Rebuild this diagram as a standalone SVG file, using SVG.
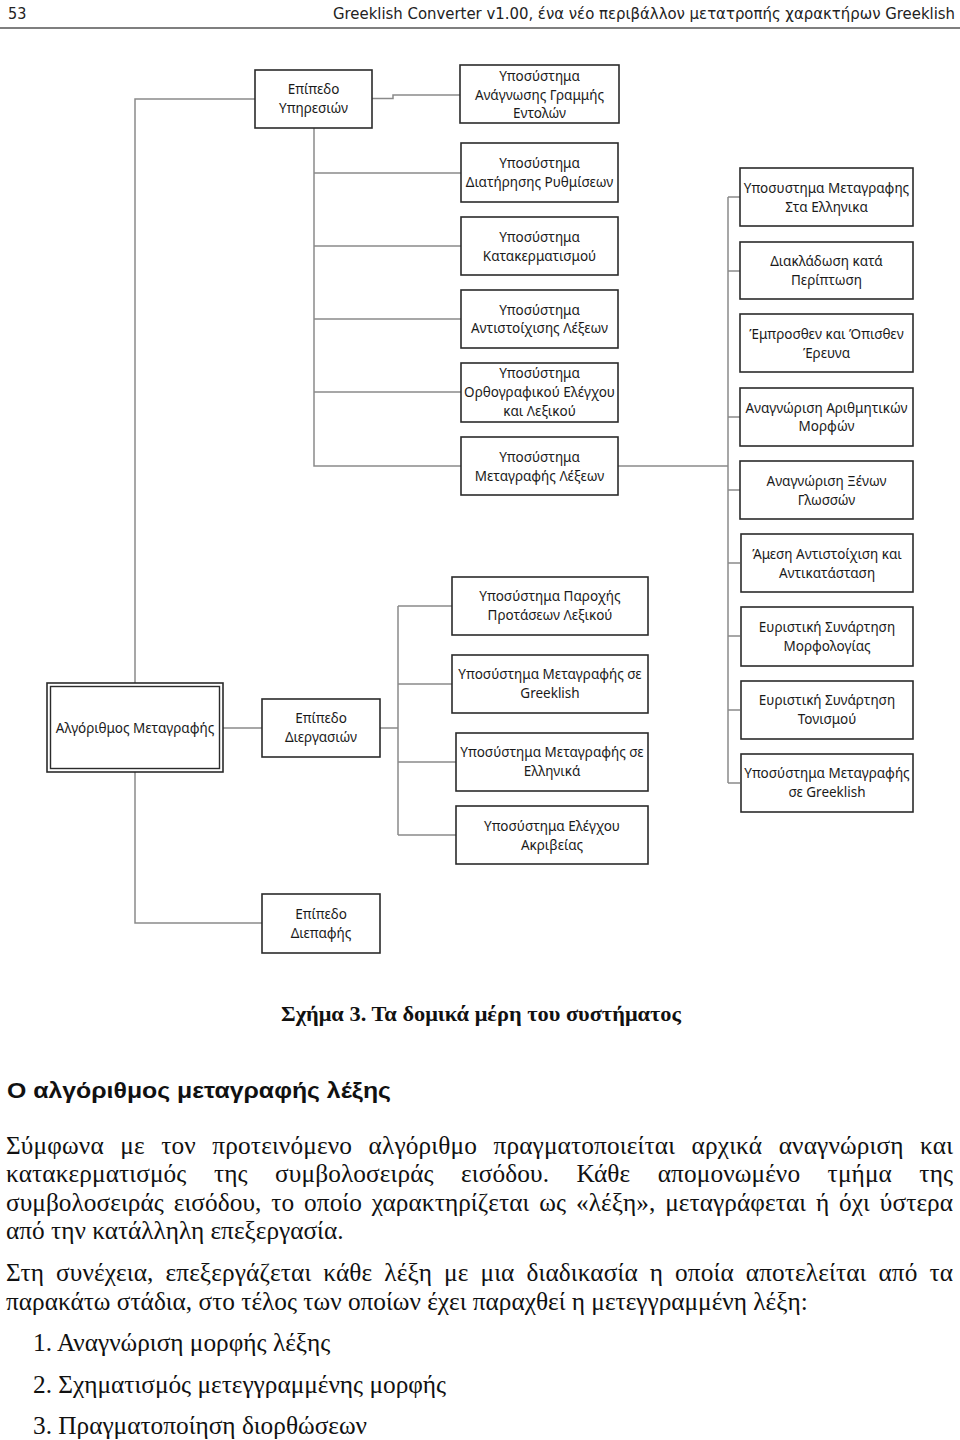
<svg xmlns="http://www.w3.org/2000/svg" width="960" height="1440" viewBox="0 0 960 1440">
<style>
.bg{fill:#ffffff}
.box{fill:#ffffff;stroke:#2b2b2b;stroke-width:1.6}
.dbl{fill:none;stroke:#2b2b2b;stroke-width:1.4}
.con{fill:none;stroke:#8a8a8a;stroke-width:1.5}
.t{font-family:"Noto Sans","Open Sans","DejaVu Sans",sans-serif;font-size:13.5px;fill:#1a1a1a;text-anchor:middle}
.hdr{font-family:"DejaVu Sans Condensed","DejaVu Sans","Liberation Sans",sans-serif;font-size:16px;fill:#222}
.p{font-family:"Liberation Serif","Times New Roman",serif;font-size:25.3px;fill:#111}
.cap{font-family:"Liberation Serif","Times New Roman",serif;font-size:22px;font-weight:bold;fill:#111}
.h{font-family:"Liberation Sans",Arial,sans-serif;font-size:22px;font-weight:bold;fill:#111}
</style>
<rect class="bg" x="0" y="0" width="960" height="1440"/>

<g id="header">
<text class="hdr" x="8" y="19">53</text>
<text class="hdr" x="955" y="19" text-anchor="end" textLength="622" lengthAdjust="spacingAndGlyphs">Greeklish Converter v1.00, ένα νέο περιβάλλον μετατροπής χαρακτήρων Greeklish</text>
<line x1="0" y1="28" x2="960" y2="28" stroke="#555" stroke-width="1.6"/>
</g>

<g id="connectors">
<path class="con" d="M135,683 V99 H255"/>
<path class="con" d="M372,98.5 H393 V95 H460"/>
<path class="con" d="M314,128 V466 H461"/>
<path class="con" d="M314,173 H461 M314,246 H461 M314,319 H461 M314,392 H461"/>
<path class="con" d="M618,466 H728"/>
<path class="con" d="M728,197 V783"/>
<path class="con" d="M728,197 H740 M728,271 H740 M728,417 H740 M728,490 H740 M728,563 H740 M728,636 H740 M728,710 H740 M728,783 H740"/>
<path class="con" d="M223,728 H262"/>
<path class="con" d="M380,728 H398"/>
<path class="con" d="M398,606 V835"/>
<path class="con" d="M398,606 H452 M398,684 H452 M398,762 H456 M398,835 H456"/>
<path class="con" d="M135,772 V923 H262"/>
</g>

<g id="n-ypiresion">
<rect class="box" x="255" y="70" width="117" height="58"/>
<text class="t" x="313.5" y="94">Επίπεδο</text>
<text class="t" x="313.5" y="113">Υπηρεσιών</text>
</g>
<g id="n-anagnosis">
<rect class="box" x="460" y="65" width="159" height="58"/>
<text class="t" x="539.5" y="81">Υποσύστημα</text>
<text class="t" x="539.5" y="99.5">Ανάγνωσης Γραμμής</text>
<text class="t" x="539.5" y="118">Εντολών</text>
</g>
<g id="n-diatirisis">
<rect class="box" x="461" y="143" width="157" height="59"/>
<text class="t" x="539.5" y="168">Υποσύστημα</text>
<text class="t" x="539.5" y="187">Διατήρησης Ρυθμίσεων</text>
</g>
<g id="n-katakermatismou">
<rect class="box" x="461" y="217" width="157" height="58"/>
<text class="t" x="539.5" y="242">Υποσύστημα</text>
<text class="t" x="539.5" y="261">Κατακερματισμού</text>
</g>
<g id="n-antistoixisis">
<rect class="box" x="461" y="290" width="157" height="58"/>
<text class="t" x="539.5" y="315">Υποσύστημα</text>
<text class="t" x="539.5" y="333">Αντιστοίχισης Λέξεων</text>
</g>
<g id="n-orthografikou">
<rect class="box" x="461" y="363" width="157" height="59"/>
<text class="t" x="539.5" y="378">Υποσύστημα</text>
<text class="t" x="539.5" y="397">Ορθογραφικού Ελέγχου</text>
<text class="t" x="539.5" y="416">και Λεξικού</text>
</g>
<g id="n-metagrafis-lexeon">
<rect class="box" x="461" y="437" width="157" height="58"/>
<text class="t" x="539.5" y="462">Υποσύστημα</text>
<text class="t" x="539.5" y="481">Μεταγραφής Λέξεων</text>
</g>

<g id="n-r1">
<rect class="box" x="740" y="168" width="173" height="58"/>
<text class="t" x="826.5" y="193">Υποσυστημα Μεταγραφης</text>
<text class="t" x="826.5" y="212">Στα Ελληνικα</text>
</g>
<g id="n-r2">
<rect class="box" x="740" y="242" width="173" height="57"/>
<text class="t" x="826.5" y="266">Διακλάδωση κατά</text>
<text class="t" x="826.5" y="285">Περίπτωση</text>
</g>
<g id="n-r3">
<rect class="box" x="740" y="314" width="173" height="58"/>
<text class="t" x="826.5" y="339">Έμπροσθεν και Όπισθεν</text>
<text class="t" x="826.5" y="358">Έρευνα</text>
</g>
<g id="n-r4">
<rect class="box" x="740" y="388" width="173" height="58"/>
<text class="t" x="826.5" y="413">Αναγνώριση Αριθμητικών</text>
<text class="t" x="826.5" y="431">Μορφών</text>
</g>
<g id="n-r5">
<rect class="box" x="740" y="461" width="173" height="58"/>
<text class="t" x="826.5" y="486">Αναγνώριση Ξένων</text>
<text class="t" x="826.5" y="505">Γλωσσών</text>
</g>
<g id="n-r6">
<rect class="box" x="741" y="534" width="172" height="58"/>
<text class="t" x="827" y="559">Άμεση Αντιστοίχιση και</text>
<text class="t" x="827" y="578">Αντικατάσταση</text>
</g>
<g id="n-r7">
<rect class="box" x="741" y="607" width="172" height="59"/>
<text class="t" x="827" y="632">Ευριστική Συνάρτηση</text>
<text class="t" x="827" y="651">Μορφολογίας</text>
</g>
<g id="n-r8">
<rect class="box" x="741" y="681" width="172" height="58"/>
<text class="t" x="827" y="705">Ευριστική Συνάρτηση</text>
<text class="t" x="827" y="724">Τονισμού</text>
</g>
<g id="n-r9">
<rect class="box" x="741" y="754" width="172" height="58"/>
<text class="t" x="827" y="778">Υποσύστημα Μεταγραφής</text>
<text class="t" x="827" y="797">σε Greeklish</text>
</g>

<g id="n-algorithmos">
<rect class="box" x="47" y="683" width="176" height="89" stroke-width="2"/>
<rect class="dbl" x="50.5" y="686.5" width="169" height="82"/>
<text class="t" x="135" y="733">Αλγόριθμος Μεταγραφής</text>
</g>
<g id="n-diergasion">
<rect class="box" x="262" y="699" width="118" height="58"/>
<text class="t" x="321" y="723">Επίπεδο</text>
<text class="t" x="321" y="742">Διεργασιών</text>
</g>
<g id="n-parochis">
<rect class="box" x="452" y="577" width="196" height="58"/>
<text class="t" x="550" y="601">Υποσύστημα Παροχής</text>
<text class="t" x="550" y="620">Προτάσεων Λεξικού</text>
</g>
<g id="n-se-greeklish">
<rect class="box" x="452" y="655" width="196" height="58"/>
<text class="t" x="550" y="679">Υποσύστημα Μεταγραφής σε</text>
<text class="t" x="550" y="698">Greeklish</text>
</g>
<g id="n-se-ellinika">
<rect class="box" x="456" y="733" width="192" height="58"/>
<text class="t" x="552" y="757">Υποσύστημα Μεταγραφής σε</text>
<text class="t" x="552" y="776">Ελληνικά</text>
</g>
<g id="n-akriveias">
<rect class="box" x="456" y="806" width="192" height="58"/>
<text class="t" x="552" y="831">Υποσύστημα Ελέγχου</text>
<text class="t" x="552" y="850">Ακριβείας</text>
</g>
<g id="n-diepafis">
<rect class="box" x="262" y="894" width="118" height="59"/>
<text class="t" x="321" y="919">Επίπεδο</text>
<text class="t" x="321" y="938">Διεπαφής</text>
</g>

<g id="caption">
<text class="cap" x="481" y="1021" text-anchor="middle" textLength="400" lengthAdjust="spacingAndGlyphs">Σχήμα 3. Τα δομικά μέρη του συστήματος</text>
</g>
<g id="body">
<text class="h" x="7" y="1098" textLength="384" lengthAdjust="spacingAndGlyphs">Ο αλγόριθμος μεταγραφής λέξης</text>
<text class="p" x="6" y="1154" word-spacing="10" textLength="947" lengthAdjust="spacing">Σύμφωνα με τον προτεινόμενο αλγόριθμο πραγματοποιείται αρχικά αναγνώριση και</text>
<text class="p" x="6" y="1182" word-spacing="21" textLength="947" lengthAdjust="spacing">κατακερματισμός της συμβολοσειράς εισόδου. Κάθε απομονωμένο τμήμα της</text>
<text class="p" x="6" y="1211" word-spacing="3.5" textLength="947" lengthAdjust="spacing">συμβολοσειράς εισόδου, το οποίο χαρακτηρίζεται ως «λέξη», μεταγράφεται ή όχι ύστερα</text>
<text class="p" x="6" y="1239">από την κατάλληλη επεξεργασία.</text>
<text class="p" x="6" y="1281" word-spacing="5.5" textLength="947" lengthAdjust="spacing">Στη συνέχεια, επεξεργάζεται κάθε λέξη με μια διαδικασία η οποία αποτελείται από τα</text>
<text class="p" x="6" y="1310">παρακάτω στάδια, στο τέλος των οποίων έχει παραχθεί η μετεγγραμμένη λέξη:</text>
<text class="p" x="33" y="1351">1. Αναγνώριση μορφής λέξης</text>
<text class="p" x="33" y="1393">2. Σχηματισμός μετεγγραμμένης μορφής</text>
<text class="p" x="33" y="1434">3. Πραγματοποίηση διορθώσεων</text>
</g>
</svg>
